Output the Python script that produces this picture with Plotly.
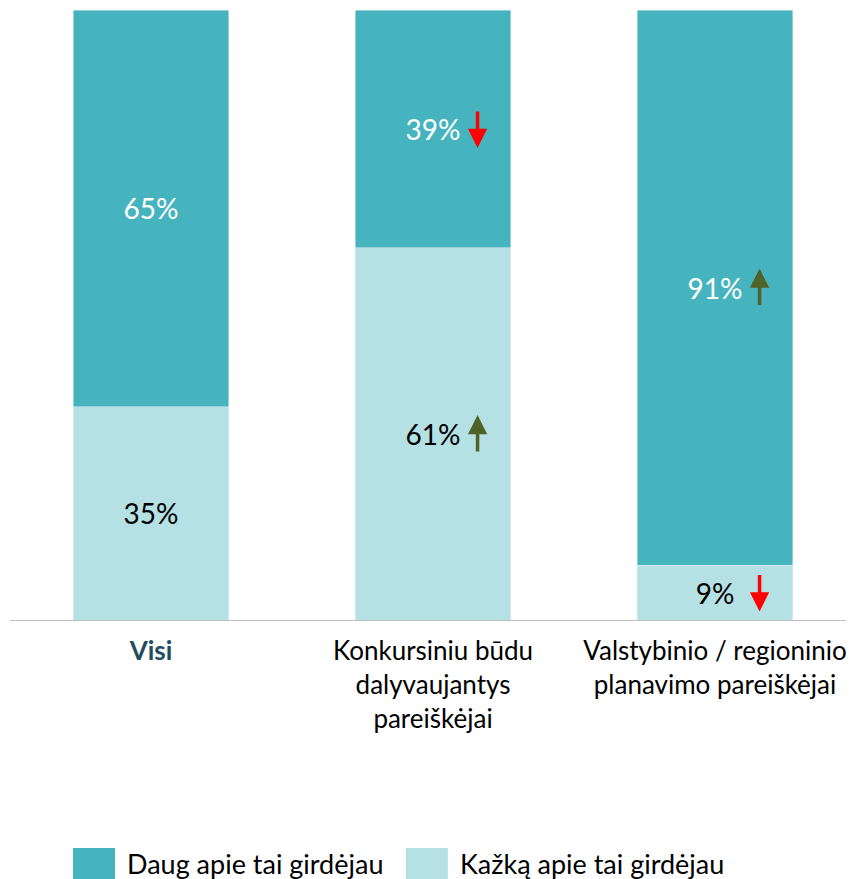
import plotly.graph_objects as go

categories = ["Visi", "Konkursiniu būdu dalyvaujantys pareiškėjai",
              "Valstybinio / regioninio planavimo pareiškėjai"]
tick_labels = ["<b><span style='color:#1F4E5F'>Visi</span></b>",
               "Konkursiniu būdu<br>dalyvaujantys<br>pareiškėjai",
               "Valstybinio / regioninio<br>planavimo pareiškėjai"]
kazka = [35, 61, 9]   # Kažką apie tai girdėjau
daug = [65, 39, 91]   # Daug apie tai girdėjau
# pokyčio rodyklės: 1 aukštyn, -1 žemyn, 0 nėra
kazka_trend = [0, 1, -1]
daug_trend = [0, -1, 1]

dark = "#46B4BE"
light = "#B5E1E4"
up_col = "#4F6228"
down_col = "#FF0000"
font = "Lato, 'Noto Sans', sans-serif"

x = list(range(len(categories)))

fig = go.Figure()
fig.add_trace(go.Bar(
    x=x, y=kazka, name="Kažką apie tai girdėjau", marker_color=light,
    text=[f"{v}%" for v in kazka], textposition="inside",
    insidetextanchor="middle", textfont=dict(color="black", size=28),
    width=0.553, showlegend=False))
fig.add_trace(go.Bar(
    x=x, y=daug, name="Daug apie tai girdėjau", marker_color=dark,
    text=[f"{v}%" for v in daug], textposition="inside",
    insidetextanchor="middle", textfont=dict(color="white", size=28),
    width=0.553, showlegend=False))

# rodyklės šalia reikšmių
for i in x:
    for base, val, tr in [(0, kazka[i], kazka_trend[i]),
                          (kazka[i], daug[i], daug_trend[i])]:
        if tr == 0:
            continue
        mid = base + val / 2
        fig.add_annotation(
            x=i + 0.158, y=mid, xref="x", yref="y", text="",
            showarrow=True, arrowhead=2, arrowsize=1.1, arrowwidth=3.5,
            arrowcolor=up_col if tr > 0 else down_col,
            ax=0, ay=38 * tr, yshift=19 * tr)

# legenda (dideli kvadratėliai kaip originale)
legend_items = [("Daug apie tai girdėjau", dark, 0.0745),
                ("Kažką apie tai girdėjau", light, 0.468)]
for name, col, x0 in legend_items:
    fig.add_shape(type="rect", xref="paper", yref="paper",
                  x0=x0, x1=x0 + 0.0496, y0=-0.3738, y1=-0.43,
                  fillcolor=col, line_width=0)
    fig.add_annotation(xref="paper", yref="paper", x=x0 + 0.0615,
                       y=-0.399, text=name, showarrow=False,
                       xanchor="left", yanchor="middle",
                       font=dict(size=27, color="black"))

fig.update_layout(
    barmode="stack", width=854, height=879,
    margin=dict(l=2, r=6, t=2, b=267),
    plot_bgcolor="white", paper_bgcolor="white",
    font=dict(family=font, size=26, color="black"),
    uniformtext=dict(mode=False),
    showlegend=False)
fig.update_xaxes(tickvals=x, ticktext=tick_labels, range=[-0.5, 2.5],
                 showline=True, linecolor="#BFBFBF", linewidth=1,
                 showgrid=False, ticks="", ticklabelstandoff=8,
                 tickfont=dict(size=26, color="black"))
fig.update_yaxes(range=[0, 100], visible=False, showgrid=False)

fig.write_html("out.html")
